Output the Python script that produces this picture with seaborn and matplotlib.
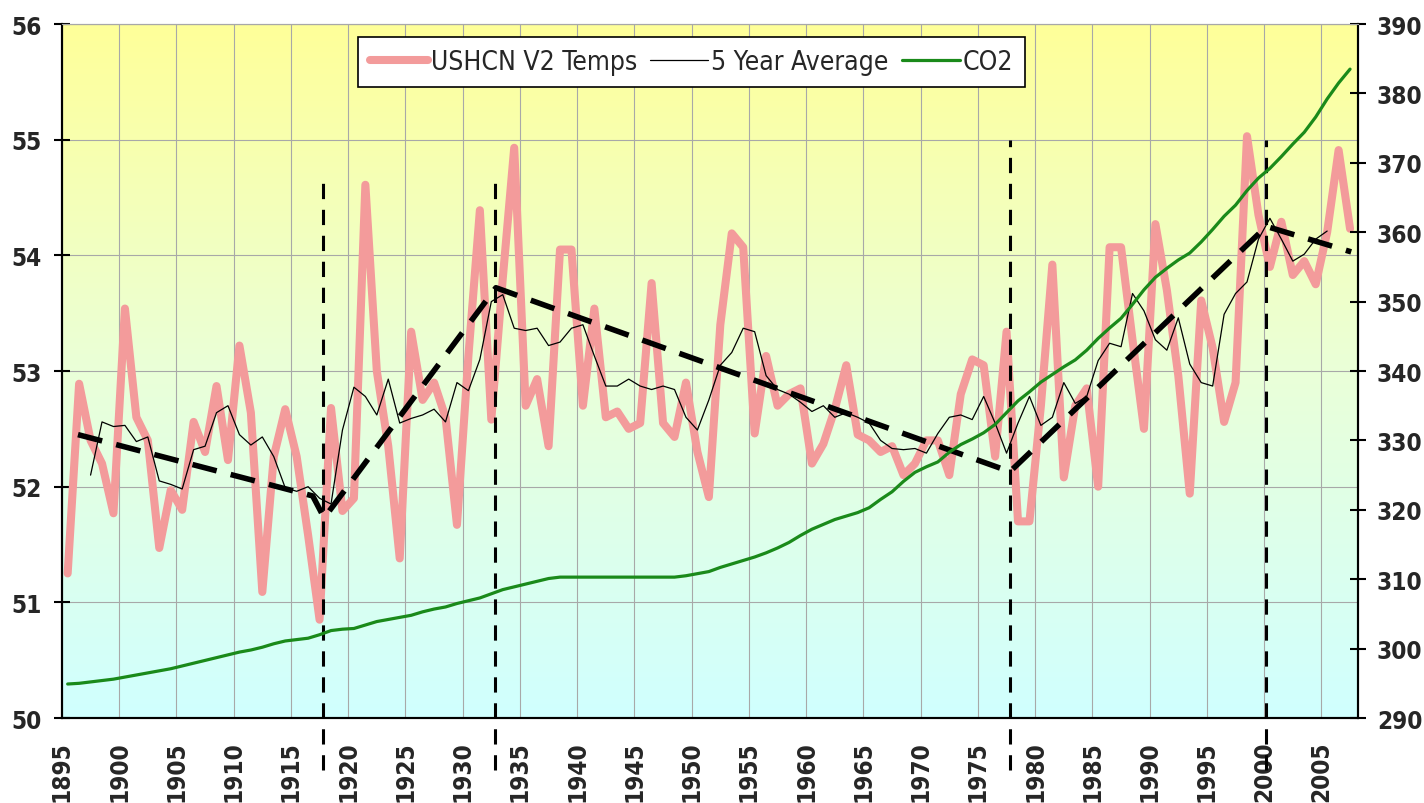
import numpy as np
import matplotlib
matplotlib.use('Agg')
import matplotlib.pyplot as plt
import seaborn as sns
from matplotlib.colors import LinearSegmentedColormap
from matplotlib.font_manager import FontProperties

sns.set_style('white')
plt.rcParams['font.family'] = ['DejaVu Sans']
plt.rcParams['font.stretch'] = 'condensed'


# Data
years = np.arange(1895, 2008)
temps = [
    51.25, 52.89, 52.40, 52.20, 51.77,                                  # 1895-1899
    53.54, 52.60, 52.40, 51.47, 51.97, 51.80, 52.56, 52.30, 52.87, 52.23,  # 1900s
    53.22, 52.64, 51.09, 52.26, 52.67, 52.26, 51.58, 50.85, 52.68, 51.79,  # 1910s
    51.90, 54.61, 53.00, 52.35, 51.38, 53.34, 52.75, 52.90, 52.60, 51.67,  # 1920s
    53.13, 54.39, 52.58, 53.80, 54.93, 52.70, 52.93, 52.35, 54.05, 54.05,  # 1930s
    52.70, 53.54, 52.60, 52.65, 52.50, 52.55, 53.76, 52.55, 52.43, 52.90,  # 1940s
    52.30, 51.91, 53.40, 54.19, 54.07, 52.46, 53.13, 52.70, 52.80, 52.85,  # 1950s
    52.20, 52.37, 52.67, 53.05, 52.45, 52.40, 52.30, 52.35, 52.10, 52.20,  # 1960s
    52.40, 52.40, 52.10, 52.80, 53.10, 53.05, 52.26, 53.34, 51.70, 51.70,  # 1970s
    52.70, 53.92, 52.08, 52.70, 52.85, 52.00, 54.07, 54.07, 53.27, 52.50,  # 1980s
    54.27, 53.70, 52.96, 51.94, 53.61, 53.20, 52.56, 52.90, 55.03, 54.35,  # 1990s
    53.90, 54.29, 53.83, 53.95, 53.75, 54.20, 54.91, 54.23,                # 2000s
]

avg_years = np.arange(1897, 2006)
avg5 = [
    52.10, 52.56, 52.52,
    52.53, 52.39, 52.43, 52.05, 52.02, 51.98, 52.32, 52.35, 52.64, 52.70,
    52.45, 52.36, 52.43, 52.26, 51.99, 51.96, 52.00, 51.90, 51.85, 52.49,
    52.86, 52.78, 52.62, 52.93, 52.55, 52.59, 52.62, 52.67, 52.56, 52.90,
    52.83, 53.10, 53.60, 53.66, 53.37, 53.35, 53.37, 53.22, 53.25, 53.37,
    53.40, 53.13, 52.87, 52.87, 52.93, 52.87, 52.84, 52.87, 52.84, 52.60,
    52.49, 52.75, 53.05, 53.16, 53.37, 53.34, 52.96, 52.84, 52.80, 52.73,
    52.65, 52.70, 52.60, 52.64, 52.60, 52.55, 52.40, 52.33, 52.32, 52.33,
    52.29, 52.46, 52.60, 52.62, 52.58, 52.78, 52.55, 52.29, 52.55, 52.78,
    52.53, 52.60, 52.90, 52.72, 52.78, 53.09, 53.24, 53.21, 53.67, 53.52,
    53.27, 53.18, 53.46, 53.06, 52.90, 52.87, 53.49, 53.67, 53.77, 54.14,
    54.32, 54.14, 53.95, 54.01, 54.14, 54.21,
]

co2 = [
    294.9, 295.0, 295.2, 295.4, 295.6,
    295.9, 296.2, 296.5, 296.8, 297.1, 297.5, 297.9, 298.3, 298.7, 299.1,
    299.5, 299.8, 300.2, 300.7, 301.1, 301.3, 301.5, 302.0, 302.6, 302.8,
    302.9, 303.4, 303.9, 304.2, 304.5, 304.8, 305.3, 305.7, 306.0, 306.5,
    306.9, 307.3, 307.9, 308.5, 308.9, 309.3, 309.7, 310.1, 310.3, 310.3,
    310.3, 310.3, 310.3, 310.3, 310.3, 310.3, 310.3, 310.3, 310.3, 310.5,
    310.8, 311.1, 311.7, 312.2, 312.7, 313.2, 313.8, 314.5, 315.3, 316.3,
    317.2, 317.9, 318.6, 319.1, 319.6, 320.3, 321.5, 322.6, 324.1, 325.4,
    326.2, 326.9, 328.3, 329.4, 330.2, 331.1, 332.3, 334.0, 335.7, 337.0,
    338.4, 339.5, 340.6, 341.6, 343.0, 344.7, 346.2, 347.6, 349.6, 351.7,
    353.5, 354.8, 356.0, 357.0, 358.6, 360.4, 362.3, 363.9, 366.0, 367.8,
    369.2, 370.9, 372.7, 374.4, 376.6, 379.2, 381.5, 383.5,
]

# hand-drawn trend segments and break markers (axis units)
trend_x = [1896.4, 1916.9, 1917.9, 1932.9, 1977.8, 2000.2, 2007.6]
trend_y = [52.45, 51.92, 51.73, 53.72, 52.13, 54.25, 54.03]
breaks = [1917.8, 1932.8, 1977.8, 2000.2]
break_tops = [54.68, 54.68, 55.0, 55.0]

xticks = np.arange(1895, 2006, 5)
pos = 0.5  # each year sits in the middle of its category

tick_font = FontProperties(family='DejaVu Sans', weight='bold', stretch='condensed', size=17.5)
leg_font = FontProperties(family='DejaVu Sans', weight='normal', stretch='condensed', size=19)


# Figure
fig = plt.figure(figsize=(14.24, 8.04), dpi=100)
ax = fig.add_axes([0.0435, 0.1057, 0.9102, 0.8632])

# yellow -> cyan background
cmap = LinearSegmentedColormap.from_list('bg', ['#d0ffff', '#eaffd8', '#ffff99'])
grad = np.linspace(0, 1, 256).reshape(-1, 1)
ax.imshow(grad, cmap=cmap, origin='lower', aspect='auto', extent=[0, 1, 0, 1],
          transform=ax.transAxes, zorder=0)

sns.lineplot(x=years + pos, y=temps, ax=ax, color='#f39b9b', lw=5.8,
             label='USHCN V2 Temps', solid_joinstyle='round', solid_capstyle='round')
sns.lineplot(x=avg_years + pos, y=avg5, ax=ax, color='black', lw=0.9,
             label='5 Year Average')
ax.plot(trend_x, trend_y, color='black', lw=4, linestyle=(0, (4.5, 2.6)), zorder=4)
ax.vlines(breaks, 49.55, break_tops, colors='black', lw=2.2,
          linestyles=(0, (5, 3.5)), clip_on=False, zorder=4)

ax2 = ax.twinx()
sns.lineplot(x=years + pos, y=co2, ax=ax2, color='#1a8a1a', lw=2.3, label='CO2')

# Axes
ax.set_xlim(1895, 2008.2)
ax.set_ylim(50, 56)
ax2.set_ylim(290, 390)
ax.set_xlabel('')
ax.set_ylabel('')
ax2.set_ylabel('')

ax.set_axisbelow(True)
ax.grid(True, color='#a8a8a8', lw=0.8)
ax2.grid(False)

ax.set_xticks(xticks)
ax.set_xticklabels([str(y) for y in xticks], rotation=90, fontproperties=tick_font)
ax.set_yticks(range(50, 57))
ax.set_yticklabels([str(v) for v in range(50, 57)], fontproperties=tick_font)
ax2.set_yticks(range(290, 391, 10))
ax2.set_yticklabels([str(v) for v in range(290, 391, 10)], fontproperties=tick_font)

ax.tick_params(axis='x', direction='inout', length=10, width=1.5, color='black', pad=11)
ax.tick_params(axis='y', direction='inout', length=11, width=1.5, color='black', pad=9)
ax2.tick_params(axis='y', direction='inout', length=11, width=1.5, color='black', pad=8)

for a in (ax, ax2):
    for s in ('left', 'bottom', 'right'):
        a.spines[s].set_color('black')
        a.spines[s].set_linewidth(1.5)
    a.spines['top'].set_color('#a8a8a8')
    a.spines['top'].set_linewidth(0.8)

# Legend
h1, l1 = ax.get_legend_handles_labels()
h2, l2 = ax2.get_legend_handles_labels()
ax.get_legend().remove()
ax2.get_legend().remove()
leg = ax2.legend(h1 + h2, l1 + l2, ncol=3, loc='upper center', bbox_to_anchor=(0.4857, 0.981),
                 fancybox=False, framealpha=1, edgecolor='black', prop=leg_font,
                 handlelength=2.2, handletextpad=0.1, columnspacing=0.5, borderpad=0.45,
                 borderaxespad=0)
leg.get_frame().set_linewidth(1.2)

fig.savefig('out.png', dpi=100)
